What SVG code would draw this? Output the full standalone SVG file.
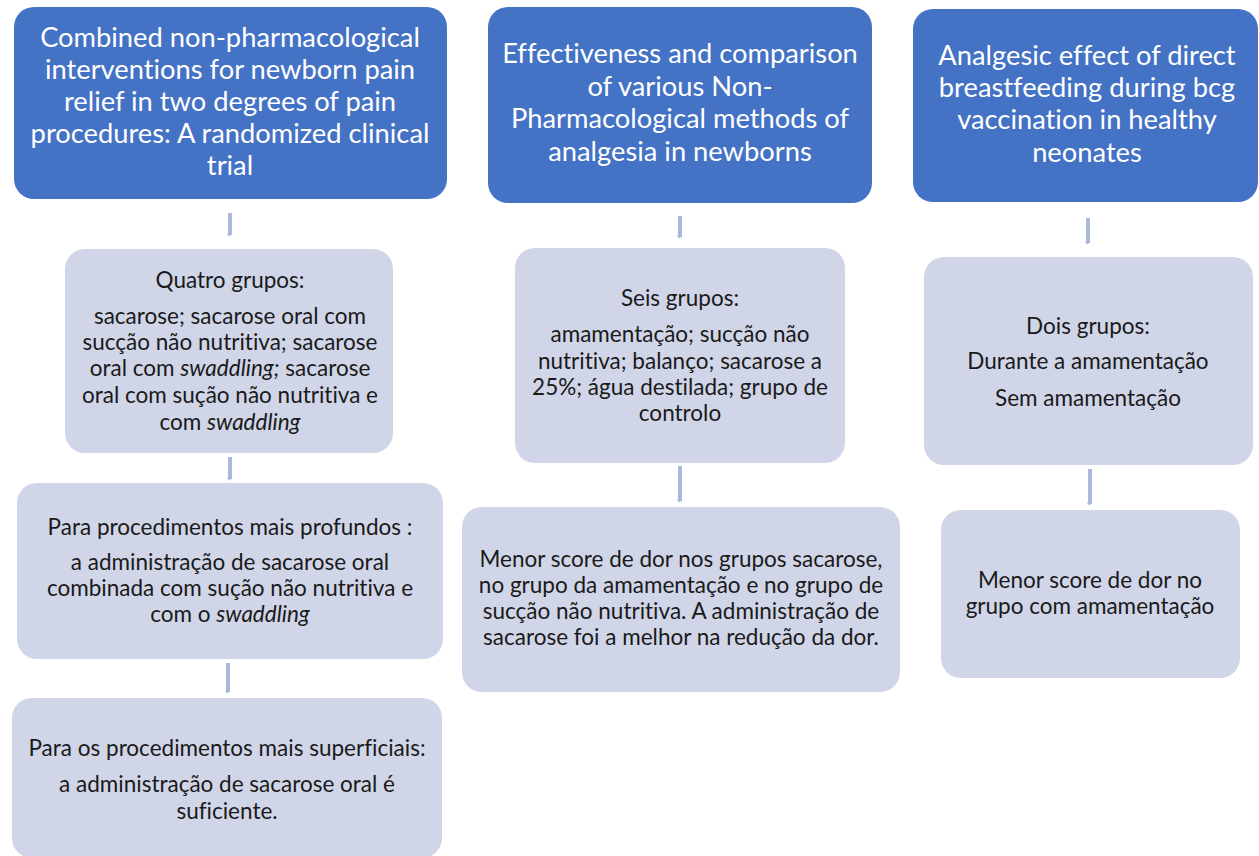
<svg xmlns="http://www.w3.org/2000/svg" width="1259" height="856" viewBox="0 0 1259 856">
  <style>
    .head { fill: #4472C4; }
    .body { fill: #D0D5E8; }
    text { font-variant-ligatures: none; }
    .ht { font-family: Lato, "Liberation Sans", sans-serif; font-size: 27.3px; fill: #FFFFFF; text-anchor: middle; }
    .bt { font-family: Lato, "Liberation Sans", sans-serif; font-size: 22.5px; fill: #1A1A1A; text-anchor: middle; }
    .it { font-style: italic; }
    .conn { stroke: #A9B8DB; stroke-width: 4; fill: none; marker-end: url(#tip); }
  </style>
  <defs>
    <marker id="tip" viewBox="0 0 6 4" refX="3" refY="1" markerWidth="6" markerHeight="4" markerUnits="userSpaceOnUse" orient="auto">
      <path d="M0,0 L6,0 L3,3 Z" fill="#A9B8DB" transform="rotate(-90 3 1.5)"/>
    </marker>
  </defs>
  <rect width="1259" height="856" fill="#FFFFFF"/>

  <!-- connectors -->
  <g id="connectors">
    <line class="conn" x1="230" y1="213" x2="230" y2="235"/>
    <line class="conn" x1="230" y1="457" x2="230" y2="479"/>
    <line class="conn" x1="228" y1="663" x2="228" y2="692"/>
    <line class="conn" x1="680" y1="216" x2="680" y2="237"/>
    <line class="conn" x1="680" y1="466" x2="680" y2="501"/>
    <line class="conn" x1="1088" y1="218" x2="1088" y2="243"/>
    <line class="conn" x1="1090" y1="469" x2="1090" y2="504"/>
  </g>

  <!-- column 1 -->
  <g id="title1">
    <rect class="head" x="14" y="7" width="433" height="192" rx="20"/>
    <text class="ht" x="230" y="47">Combined non-pharmacological</text>
    <text class="ht" x="230" y="79">interventions for newborn pain</text>
    <text class="ht" x="230" y="111">relief in two degrees of pain</text>
    <text class="ht" x="230" y="143">procedures: A randomized clinical</text>
    <text class="ht" x="230" y="175">trial</text>
  </g>
  <g id="groups1">
    <rect class="body" x="65" y="249" width="328" height="204" rx="20"/>
    <text class="bt" x="230" y="288">Quatro grupos:</text>
    <text class="bt" x="230" y="324">sacarose; sacarose oral com</text>
    <text class="bt" x="230" y="350">sucção não nutritiva; sacarose</text>
    <text class="bt" x="230" y="376">oral com <tspan class="it">swaddling;</tspan> sacarose</text>
    <text class="bt" x="230" y="403">oral com sução não nutritiva e</text>
    <text class="bt" x="230" y="430">com <tspan class="it">swaddling</tspan></text>
  </g>
  <g id="deep1">
    <rect class="body" x="17" y="483" width="426" height="176" rx="20"/>
    <text class="bt" x="230" y="535">Para procedimentos mais profundos :</text>
    <text class="bt" x="230" y="570">a administração de sacarose oral</text>
    <text class="bt" x="230" y="596">combinada com sução não nutritiva e</text>
    <text class="bt" x="230" y="622">com o <tspan class="it">swaddling</tspan></text>
  </g>
  <g id="surface1">
    <rect class="body" x="12" y="698" width="430" height="160" rx="20"/>
    <text class="bt" x="227" y="756">Para os procedimentos mais superficiais:</text>
    <text class="bt" x="227" y="792">a administração de sacarose oral é</text>
    <text class="bt" x="227" y="819">suficiente.</text>
  </g>

  <!-- column 2 -->
  <g id="title2">
    <rect class="head" x="488" y="7" width="384" height="196" rx="20"/>
    <text class="ht" x="680" y="63">Effectiveness and comparison</text>
    <text class="ht" x="680" y="96">of various Non-</text>
    <text class="ht" x="680" y="128">Pharmacological methods of</text>
    <text class="ht" x="680" y="161">analgesia in newborns</text>
  </g>
  <g id="groups2">
    <rect class="body" x="515" y="248" width="330" height="215" rx="20"/>
    <text class="bt" x="680" y="306">Seis grupos:</text>
    <text class="bt" x="680" y="342">amamentação; sucção não</text>
    <text class="bt" x="680" y="369">nutritiva; balanço; sacarose a</text>
    <text class="bt" x="680" y="395">25%; água destilada; grupo de</text>
    <text class="bt" x="680" y="421">controlo</text>
  </g>
  <g id="result2">
    <rect class="body" x="462" y="507" width="438" height="185" rx="20"/>
    <text class="bt" x="681" y="567">Menor score de dor nos grupos sacarose,</text>
    <text class="bt" x="681" y="593">no grupo da amamentação e no grupo de</text>
    <text class="bt" x="681" y="619">sucção não nutritiva. A administração de</text>
    <text class="bt" x="681" y="645">sacarose foi a melhor na redução da dor.</text>
  </g>

  <!-- column 3 -->
  <g id="title3">
    <rect class="head" x="913" y="9" width="345" height="193" rx="20"/>
    <text class="ht" x="1087" y="65">Analgesic effect of direct</text>
    <text class="ht" x="1087" y="97">breastfeeding during bcg</text>
    <text class="ht" x="1087" y="129">vaccination in healthy</text>
    <text class="ht" x="1087" y="162">neonates</text>
  </g>
  <g id="groups3">
    <rect class="body" x="924" y="257" width="329" height="208" rx="20"/>
    <text class="bt" x="1088" y="334">Dois grupos:</text>
    <text class="bt" x="1088" y="369">Durante a amamentação</text>
    <text class="bt" x="1088" y="406">Sem amamentação</text>
  </g>
  <g id="result3">
    <rect class="body" x="941" y="510" width="299" height="168" rx="20"/>
    <text class="bt" x="1090" y="588">Menor score de dor no</text>
    <text class="bt" x="1090" y="614">grupo com amamentação</text>
  </g>
</svg>
